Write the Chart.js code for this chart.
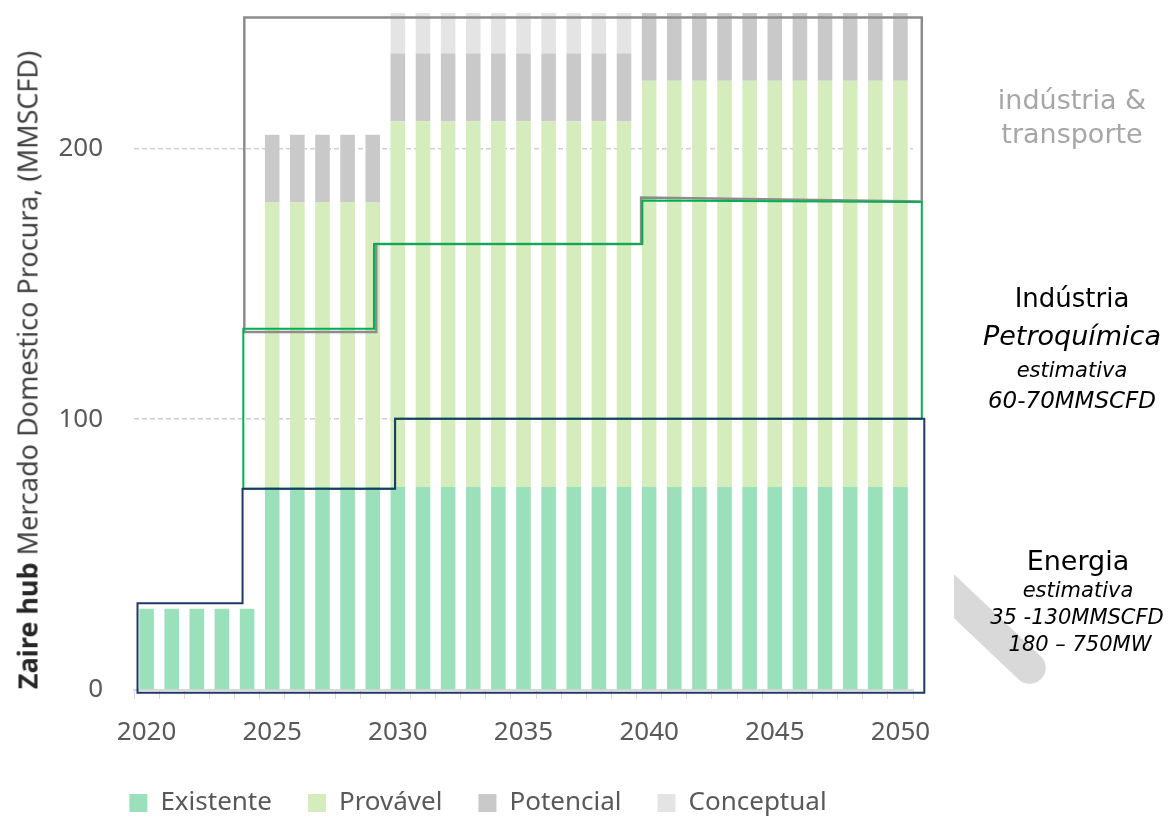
<!DOCTYPE html>
<html>
<head>
<meta charset="utf-8">
<script src="https://cdn.jsdelivr.net/npm/chart.js@4.4.1/dist/chart.umd.min.js"></script>
<style>
  body { margin: 0; background: #fff; }
  #wrap { position: relative; width: 1170px; height: 818px; overflow: hidden; }
  #chartBox { position: absolute; left: 0; top: 0; width: 956px; height: 818px; }
  .note { position: absolute; width: 240px; text-align: center; font-family: "DejaVu Sans"; line-height: 1; white-space: nowrap; }
  .it { font-style: italic; }
  #ytitle { position: absolute; left: 27px; top: 370px; transform: translate(-50%, -50%) rotate(-90deg);
            white-space: nowrap; font-family: "Noto Sans"; font-size: 27px; color: #404040; }
  #ytitle b { color: #262626; }
  #bandClip { position: absolute; left: 954px; top: 540px; width: 150px; height: 170px; overflow: hidden; }
  #band { position: absolute; left: -34px; top: 8px; width: 167px; height: 32px; border-radius: 16px;
          background: #d9d9d9; transform-origin: 0 16px; transform: rotate(43.4deg); }
</style>
</head>
<body>
<div id="wrap">
  <div id="chartBox"><canvas id="lineChart" width="956" height="818"></canvas></div>
  <div id="ytitle"><b>Zaire hub</b> Mercado Domestico Procura, (MMSCFD)</div>

  <div class="note" style="left:952px; top:86px; font-size:27px; color:#a6a6a6;">indústria &amp;</div>
  <div class="note" style="left:952px; top:120px; font-size:27px; color:#a6a6a6;">transporte</div>

  <div class="note" style="left:952px; top:285px; font-size:26px; color:#000;">Indústria</div>
  <div class="note it" style="left:952px; top:322px; font-size:27px; color:#000;">Petroquímica</div>
  <div class="note it" style="left:952px; top:360px; font-size:21px; color:#000;">estimativa</div>
  <div class="note it" style="left:952px; top:389px; font-size:23px; color:#000;">60-70MMSCFD</div>

  <div id="bandClip"><div id="band"></div></div>
  <div class="note" style="left:958px; top:547px; font-size:27px; color:#000;">Energia</div>
  <div class="note it" style="left:958px; top:580px; font-size:21px; color:#000;">estimativa</div>
  <div class="note it" style="left:957px; top:607px; font-size:21px; color:#000;">35 -130MMSCFD</div>
  <div class="note it" style="left:960px; top:634px; font-size:21px; color:#000;">180 – 750MW</div>
</div>

<script>
// yearly demand, MMSCFD
const years = [2020, 2021, 2022, 2023, 2024, 2025, 2026, 2027, 2028, 2029, 2030,
  2031, 2032, 2033, 2034, 2035, 2036, 2037, 2038, 2039, 2040,
  2041, 2042, 2043, 2044, 2045, 2046, 2047, 2048, 2049, 2050];

const existente = [30, 30, 30, 30, 30, 75, 75, 75, 75, 75, 75,
  75, 75, 75, 75, 75, 75, 75, 75, 75, 75,
  75, 75, 75, 75, 75, 75, 75, 75, 75, 75];
const provavel = [0, 0, 0, 0, 0, 105, 105, 105, 105, 105, 135,
  135, 135, 135, 135, 135, 135, 135, 135, 135, 150,
  150, 150, 150, 150, 150, 150, 150, 150, 150, 150];
const potencial = [0, 0, 0, 0, 0, 25, 25, 25, 25, 25, 25,
  25, 25, 25, 25, 25, 25, 25, 25, 25, 25,
  25, 25, 25, 25, 25, 25, 25, 25, 25, 25];
const conceptual = [0, 0, 0, 0, 0, 0, 0, 0, 0, 0, 15,
  15, 15, 15, 15, 15, 15, 15, 15, 15, 0,
  0, 0, 0, 0, 0, 0, 0, 0, 0, 0];

const yTicks = [0, 100, 200];

// outlines of the three demand segments (year, MMSCFD)
const energiaX = [2019.64, 2019.64, 2023.82, 2023.82, 2029.89, 2029.89, 2050.95, 2050.95, 2019.64];
const energiaY = [-1, 32, 32, 74.3, 74.3, 100.2, 100.2, -1, -1];

const petroX = [2023.85, 2023.85, 2029.05, 2029.05, 2039.73, 2039.73, 2050.85, 2050.85, 2029.89, 2029.89, 2023.85];
const petroY = [74.3, 133.4, 133.4, 164.7, 164.7, 180.8, 180.2, 100.2, 100.2, 74.3, 74.3];

const industriaX = [2023.89, 2023.89, 2029.14, 2029.14, 2039.68, 2039.68, 2050.85, 2050.85, 2023.89];
const industriaY = [248.3, 132.2, 132.2, 164.7, 164.7, 181.9, 180.4, 248.3, 248.3];

const toPoints = (xs, ys) => xs.map((x, i) => ({ x, y: ys[i] }));

Chart.defaults.font.family = "'Noto Sans'";
Chart.defaults.color = "#595959";

function barSet(label, values, color) {
  return {
    type: "bar",
    label,
    data: values,
    backgroundColor: color,
    borderWidth: 0,
    grouped: false,
    barPercentage: 0.58,
    categoryPercentage: 1,
    order: 10,
    xAxisID: "x",
    yAxisID: "y",
  };
}

function outline(label, xs, ys, color, width, order) {
  return {
    type: "line",
    label,
    data: toPoints(xs, ys),
    borderColor: color,
    borderWidth: width,
    pointRadius: 0,
    tension: 0,
    fill: false,
    clip: false,
    borderJoinStyle: "miter",
    borderCapStyle: "square",
    order,
    xAxisID: "xl",
    yAxisID: "yl",
  };
}

const data = {
  labels: years,
  datasets: [
    barSet("Existente", existente, "#9ae0bb"),
    barSet("Provável", provavel, "#d5ecbc"),
    barSet("Potencial", potencial, "#c9c9c9"),
    barSet("Conceptual", conceptual, "#e4e4e4"),
    outline("industria", industriaX, industriaY, "#8c8c8c", 2.5, 3),
    outline("petroquimica", petroX, petroY, "#00b050", 2, 2),
    outline("energia", energiaX, energiaY, "#1f3864", 2, 1),
  ],
};

// keep tick-label spacing from pushing the plot area inward
const noEdgePadding = (s) => { s.paddingTop = 0; s.paddingBottom = 0; };

const config = {
  type: "bar",
  data: data,
  options: {
    responsive: false,
    animation: false,
    layout: { autoPadding: false, padding: { top: 13, left: 0, right: 0, bottom: -8 } },
    plugins: {
      tooltip: { enabled: false },
      legend: {
        position: "bottom",
        labels: {
          boxWidth: 18,
          boxHeight: 18,
          padding: 36,
          color: "#595959",
          font: { size: 26 },
          filter: (item) => item.datasetIndex < 4,
        },
      },
    },
    scales: {
      x: {
        type: "category",
        stacked: true,
        offset: true,
        grid: { display: true, drawOnChartArea: false, drawTicks: true, tickLength: 9, color: "#d9d9d9", offset: true },
        border: { display: true, color: "#d9d9d9", width: 2 },
        ticks: {
          autoSkip: false,
          maxRotation: 0,
          padding: 18,
          color: "#595959",
          font: { size: 26 },
          callback: (val, idx) => (years[idx] % 5 === 0 ? String(years[idx]) : ""),
        },
        afterFit: (s) => { s.height = 64; },
      },
      xl: {
        type: "linear",
        display: false,
        offset: false,
        grid: { offset: false },
        min: 2019.5,
        max: 2050.5,
      },
      y: {
        type: "linear",
        stacked: true,
        min: 0,
        max: 250,
        border: { display: false, dash: [5, 3] },
        grid: {
          drawTicks: false,
          lineWidth: 1.5,
          color: (c) => (c.tick && (c.tick.value === 100 || c.tick.value === 200) ? "#cfcfcf" : "rgba(0,0,0,0)"),
        },
        ticks: {
          stepSize: 100,
          includeBounds: false,
          padding: 31,
          color: "#595959",
          font: { size: 26 },
          callback: (v) => (yTicks.includes(v) ? String(v) : ""),
        },
        afterFit: (s) => { s.width = 134; noEdgePadding(s); },
      },
      yl: {
        type: "linear",
        position: "right",
        min: 0,
        max: 250,
        grid: { display: false },
        border: { display: false },
        ticks: { display: false },
        afterFit: (s) => { s.width = 43; noEdgePadding(s); },
      },
    },
  },
};

new Chart(document.getElementById("lineChart"), config);
</script>
</body>
</html>
